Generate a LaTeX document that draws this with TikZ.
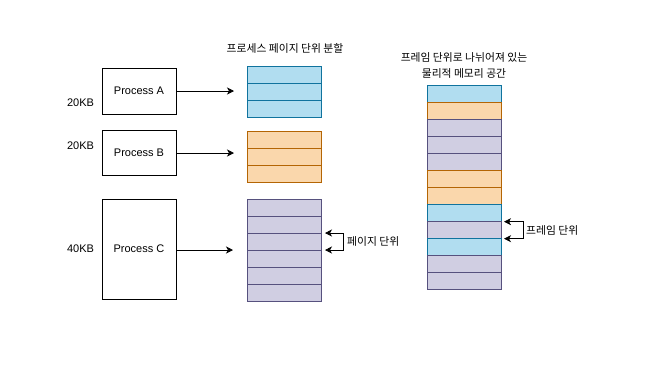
\documentclass[tikz,border=0pt]{standalone}
\usepackage{fontspec}
\setmainfont{Liberation Sans}
\newfontfamily\kr{Noto Sans CJK KR}
\usetikzlibrary{arrows.meta}
\definecolor{bfill}{HTML}{B1DDF0}\definecolor{bline}{HTML}{10739E}
\definecolor{ofill}{HTML}{FAD7AC}\definecolor{oline}{HTML}{B46504}
\definecolor{pfill}{HTML}{D0CEE2}\definecolor{pline}{HTML}{56517E}
\tikzset{
  proc/.style={draw=black, line width=0.8pt, minimum width=74pt, inner sep=0pt, outer sep=0pt, anchor=north west, font=\fontsize{11}{13}\selectfont},
  cell/.style={minimum width=74pt, minimum height=17pt, inner sep=0pt, outer sep=0pt, anchor=north west, line width=0.9pt},
  cb/.style={cell, draw=bline, fill=bfill},
  co/.style={cell, draw=oline, fill=ofill},
  cp/.style={cell, draw=pline, fill=pfill},
  arr/.style={-{Stealth[length=7pt,width=7pt,inset=2pt]}, line width=0.7pt},
  barr/.style={{Stealth[length=7pt,width=7pt,inset=2pt]}-{Stealth[length=7pt,width=7pt,inset=2pt]}, line width=0.7pt},
  lbl/.style={font=\fontsize{11}{13}\selectfont, inner sep=0pt},
  klbl/.style={font=\kr\fontsize{10.8}{16}\selectfont, inner sep=0pt, align=center},
}
\begin{document}
\begin{tikzpicture}[x=1pt,y=-1pt]
\useasboundingbox[fill=white] (0,0) rectangle (661,381);
% titles
\node[klbl] (t1) at (285,48) {프로세스 페이지 단위 분할};
\node[klbl, align=center] (t2) at (464,65) {프레임 단위로 나뉘어져 있는\\물리적 메모리 공간};
% processes
\node[proc, minimum height=46pt] (pa) at (102,68) {Process A};
\node[proc, minimum height=45pt] (pb) at (102,130) {Process B};
\node[proc, minimum height=100pt] (pc) at (102,199) {Process C};
\node[lbl] (sa) at (80.5,103) {20KB};
\node[lbl] (sb) at (80.5,146) {20KB};
\node[lbl] (sc) at (80.5,249) {40KB};
% page tables
\foreach \i in {0,1,2} {\node[cb] (a\i) at (247,66+17*\i) {};}
\foreach \i in {0,1,2} {\node[co] (b\i) at (247,131+17*\i) {};}
\foreach \i in {0,...,5} {\node[cp] (c\i) at (247,199+17*\i) {};}
% physical memory
\foreach \i/\s in {0/cb,1/co,2/cp,3/cp,4/cp,5/co,6/co,7/cb,8/cp,9/cb,10/cp,11/cp} {\node[\s] (m\i) at (427,85+17.08*\i) {};}
% arrows
\coordinate (ea) at (234,91);
\coordinate (eb) at (234,153);
\coordinate (ec) at (233,250);
\draw[arr] (pa.east |- ea) -- (ea);
\draw[arr] (pb.east |- eb) -- (eb);
\draw[arr] (pc.east |- ec) -- (ec);
% page unit bracket
\draw[barr] ([xshift=4pt]c2.north east) -- ++(18,0) |- ([xshift=4pt]c3.north east);
\node[klbl, anchor=west] (pul) at (347,241) {페이지 단위};
% frame unit bracket
\draw[barr] ([xshift=3pt]m8.north east) -- ++(19,0) |- ([xshift=3pt]m9.north east);
\node[klbl, anchor=west] (ful) at (526,230) {프레임 단위};
\end{tikzpicture}
\end{document}
